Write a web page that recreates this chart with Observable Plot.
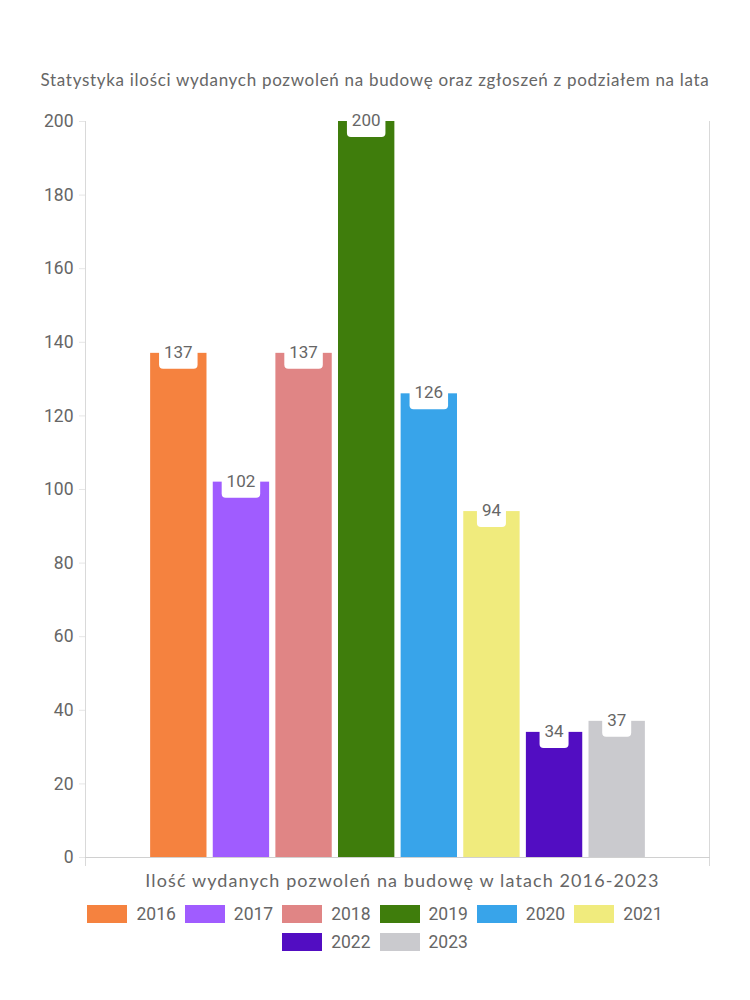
<!DOCTYPE html>
<html>
<head>
<meta charset="utf-8">
<script src="https://cdn.jsdelivr.net/npm/d3@7"></script>
<script src="https://cdn.jsdelivr.net/npm/@observablehq/plot@0.6"></script>
<style>
  html, body { margin: 0; padding: 0; background: #fff; }
  body { width: 750px; font-family: "Lato", "Open Sans", sans-serif; color: #666; }
  #title { height: 100px; box-sizing: border-box; padding-top: 69px; text-align: center; font-size: 17px; color: #666; font-family: "Lato", sans-serif; letter-spacing: 0.7px; white-space: nowrap; }
  #chart svg { display: block; }
  #legend { display: flex; flex-wrap: wrap; justify-content: center; width: 640px; margin: 6px auto 0 auto; row-gap: 7px; column-gap: 9px; font-size: 17.5px; color: #666; font-family: "Roboto", sans-serif; }
  .item { display: flex; align-items: center; gap: 9px; height: 21px; }
  .sw { width: 40px; height: 18px; display: inline-block; }
</style>
</head>
<body>
<div id="title">Statystyka ilości wydanych pozwoleń na budowę oraz zgłoszeń z podziałem na lata</div>
<div id="chart"></div>
<div id="legend"></div>
<script>
const years = ["2016", "2017", "2018", "2019", "2020", "2021", "2022", "2023"];
const permits = [137, 102, 137, 200, 126, 94, 34, 37];
const colors = ["#F5823F", "#A05CFF", "#E08585", "#3F7D0C", "#38A4EA", "#F0EB7D", "#520DC2", "#CACACE"];
const yTicks = [0, 20, 40, 60, 80, 100, 120, 140, 160, 180, 200];
const categoryLabel = "Ilość wydanych pozwoleń na budowę w latach 2016-2023";

const data = years.map((y, i) => ({year: y, value: permits[i], color: colors[i]}));

const W = 750, H = 797;
const mL = 85, mR = 40, mT = 21, mB = 40;

function getBandwidth(scales) {
  const bw = scales.x && scales.x.bandwidth;
  if (typeof bw === "function") return bw();
  if (typeof bw === "number") return bw;
  if (scales.scales && scales.scales.x && typeof scales.scales.x.bandwidth === "number") return scales.scales.x.bandwidth;
  return 0;
}

function labelsMark(index, scales, values, dimensions) {
  const g = d3.create("svg:g");
  const bw = getBandwidth(scales);
  for (const d of data) {
    const cx = scales.x(d.year) + bw / 2;
    const cy = scales.y(d.value);
    const txt = String(d.value);
    const w = txt.length * 9.5 + 10;
    g.append("rect")
      .attr("x", cx - w / 2).attr("y", cy - 12)
      .attr("width", w).attr("height", 28)
      .attr("rx", 4).attr("fill", "#fff");
    g.append("text")
      .attr("x", cx).attr("y", cy - 1)
      .attr("text-anchor", "middle").attr("dominant-baseline", "central")
      .attr("font-size", 17).attr("fill", "#666")
      .attr("font-family", "Roboto, sans-serif")
      .text(txt);
  }
  return g.node();
}

function frameMark(index, scales, values, dimensions) {
  const g = d3.create("svg:g").attr("stroke", "#d9d9d9").attr("stroke-width", 1);
  const {width, height, marginLeft, marginRight, marginTop, marginBottom} = dimensions;
  const y0 = marginTop, y1 = height - marginBottom + 9;
  g.append("line").attr("x1", marginLeft + 0.5).attr("x2", marginLeft + 0.5).attr("y1", y0).attr("y2", y1);
  g.append("line").attr("x1", width - marginRight - 0.5).attr("x2", width - marginRight - 0.5).attr("y1", y0).attr("y2", y1);
  g.append("text")
    .attr("x", (marginLeft + width - marginRight) / 2 + 5)
    .attr("y", height - marginBottom + 23)
    .attr("text-anchor", "middle").attr("dominant-baseline", "central")
    .attr("stroke", "none").attr("fill", "#666")
    .attr("font-size", 18).attr("letter-spacing", "1.1px").attr("font-family", "Lato, sans-serif")
    .text(categoryLabel);
  return g.node();
}

const chart = Plot.plot({
  width: W,
  height: H,
  marginLeft: mL,
  marginRight: mR,
  marginTop: mT,
  marginBottom: mB,
  style: {fontFamily: "Roboto, sans-serif", fontSize: "17.5px", color: "#666", background: "#fff"},
  x: {type: "band", domain: years, paddingInner: 0.1, paddingOuter: 1.04, round: false, axis: null},
  y: {domain: [0, 200], ticks: yTicks, label: null},
  marks: [
    Plot.gridY(yTicks, {stroke: "#e6e6e6", strokeOpacity: 1, x1: 0, insetLeft: -6}),
    Plot.axisY(yTicks, {tickSize: 6, stroke: "#e6e6e6", tickPadding: 6, fill: "#666", fontSize: 17.5, fontFamily: "Roboto, sans-serif", label: null}),
    frameMark,
    Plot.ruleY([0], {stroke: "#d0d0d0"}),
    Plot.barY(data, {x: "year", y: "value", fill: "color"}),
    labelsMark
  ]
});
document.getElementById("chart").appendChild(chart);

const legend = document.getElementById("legend");
years.forEach((y, i) => {
  const it = document.createElement("div");
  it.className = "item";
  const sw = document.createElement("span");
  sw.className = "sw";
  sw.style.background = colors[i];
  const t = document.createElement("span");
  t.textContent = y;
  it.appendChild(sw);
  it.appendChild(t);
  legend.appendChild(it);
});
</script>
</body>
</html>
